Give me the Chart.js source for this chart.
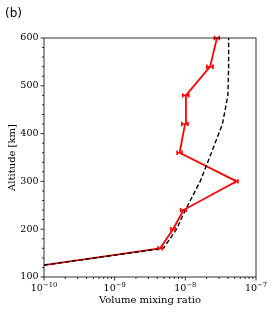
<!DOCTYPE html>
<html>
<head>
<meta charset="utf-8">
<script src="https://cdn.jsdelivr.net/npm/chart.js@4.4.0/dist/chart.umd.min.js"></script>
<style>
  html, body { margin: 0; padding: 0; background: #fff; }
  #wrap { width: 276px; height: 312px; }
</style>
</head>
<body>
<div id="wrap"><canvas id="vmr" width="276" height="312"></canvas></div>
<script>
// retrieved profile (red, with horizontal error bars)
const altitudes = [125, 160, 200, 240, 300, 360, 420, 480, 540, 600];
const retrieved = [1e-10, 4.4e-9, 6.7e-9, 9.4e-9, 5.3e-8, 8.3e-9, 9.9e-9, 1.02e-8, 2.24e-8, 2.8e-8];
const retrievedErr = [0, 0.3e-9, 0.45e-9, 0.85e-9, 2.5e-9, 0.65e-9, 1.0e-9, 1.0e-9, 2.2e-9, 2.2e-9];
// model profile (black dashed)
const modelAlt = [125, 160, 200, 240, 300, 360, 420, 480, 540, 600];
const model = [1e-10, 4.9e-9, 7.5e-9, 1.0e-8, 1.62e-8, 2.34e-8, 3.35e-8, 4.0e-8, 4.1e-8, 4.1e-8];

const xTicks = [1e-10, 1e-9, 1e-8, 1e-7];
const yTicks = [100, 200, 300, 400, 500, 600];

const serif = "'DejaVu Serif', serif";

const decor = {
  id: 'decor',
  afterDatasetsDraw(chart) {
    const ctx = chart.ctx, x = chart.scales.x, y = chart.scales.y;
    ctx.save();
    ctx.strokeStyle = '#ff0000';
    ctx.lineWidth = 1.6;
    for (let i = 0; i < altitudes.length; i++) {
      if (!retrievedErr[i]) continue;
      let py = y.getPixelForValue(altitudes[i]);
      let x0 = x.getPixelForValue(retrieved[i] - retrievedErr[i]);
      let x1 = x.getPixelForValue(retrieved[i] + retrievedErr[i]);
      ctx.beginPath();
      ctx.moveTo(x0, py); ctx.lineTo(x1, py);
      ctx.moveTo(x0, py - 2.2); ctx.lineTo(x0, py + 2.2);
      ctx.moveTo(x1, py - 2.2); ctx.lineTo(x1, py + 2.2);
      ctx.stroke();
    }
    ctx.restore();
  },
  afterDraw(chart) {
    const ctx = chart.ctx, a = chart.chartArea, x = chart.scales.x, y = chart.scales.y;
    ctx.save();
    ctx.strokeStyle = '#000';
    ctx.lineWidth = 0.8;
    ctx.strokeRect(a.left, a.top, a.right - a.left, a.bottom - a.top);
    ctx.beginPath();
    for (let v = 100; v <= 600; v += 20) {
      let py = y.getPixelForValue(v);
      let len = v % 100 === 0 ? 3.5 : 2;
      ctx.moveTo(a.left - len, py); ctx.lineTo(a.left, py);
    }
    for (let d = -10; d < -7; d++) {
      for (let m = 1; m <= 9; m++) {
        let px = x.getPixelForValue(m * Math.pow(10, d));
        let len = m === 1 ? 3.5 : 2;
        ctx.moveTo(px, a.bottom); ctx.lineTo(px, a.bottom + len);
      }
    }
    let pe = x.getPixelForValue(1e-7);
    ctx.moveTo(pe, a.bottom); ctx.lineTo(pe, a.bottom + 3.5);
    ctx.stroke();

    // x tick labels as 10 with a raised exponent
    ctx.fillStyle = '#000';
    ctx.textBaseline = 'alphabetic';
    ctx.textAlign = 'left';
    xTicks.forEach(v => {
      let base = '10';
      let exp = '\u2212' + String(-Math.round(Math.log10(v)));
      ctx.font = '9.6px ' + serif;
      let wb = ctx.measureText(base).width;
      ctx.font = '6.8px ' + serif;
      let we = ctx.measureText(exp).width;
      let px = x.getPixelForValue(v) - (wb + we) / 2;
      ctx.font = '9.6px ' + serif;
      ctx.fillText(base, px, a.bottom + 14);
      ctx.font = '6.8px ' + serif;
      ctx.fillText(exp, px + wb, a.bottom + 9.6);
    });

    ctx.font = "12px 'DejaVu Sans', sans-serif";
    ctx.fillText('(b)', 5, 17);
    ctx.restore();
  }
};

new Chart(document.getElementById('vmr'), {
  type: 'line',
  data: {
    datasets: [{
      label: 'model',
      data: model.map((v, i) => ({x: v, y: modelAlt[i]})),
      borderColor: '#000',
      borderWidth: 1.4,
      borderDash: [4.5, 2.5],
      pointRadius: 0,
      fill: false,
      tension: 0
    }, {
      label: 'retrieved',
      data: retrieved.map((v, i) => ({x: v, y: altitudes[i]})),
      borderColor: '#ff0000',
      borderWidth: 1.8,
      pointRadius: 0,
      fill: false,
      tension: 0
    }]
  },
  options: {
    responsive: false,
    animation: false,
    layout: { padding: { top: 38, right: 20, left: 0, bottom: 0 } },
    plugins: { legend: { display: false }, tooltip: { enabled: false } },
    scales: {
      x: {
        type: 'logarithmic',
        min: 1e-10,
        max: 1e-7,
        afterFit(scale) { scale.height = 35; },
        afterBuildTicks(scale) { scale.ticks = xTicks.map(v => ({value: v})); },
        grid: { display: false, drawTicks: false },
        border: { display: false },
        ticks: { display: false },
        title: {
          display: true, text: 'Volume mixing ratio', color: '#000',
          font: { family: serif, size: 10 },
          padding: { top: 0, bottom: 6 }
        }
      },
      y: {
        type: 'linear',
        min: 100,
        max: 600,
        afterFit(scale) { scale.width = 44; },
        afterBuildTicks(scale) { scale.ticks = yTicks.map(v => ({value: v})); },
        grid: { display: false, drawTicks: false },
        border: { display: false },
        ticks: {
          autoSkip: false, padding: 5.5,
          color: '#000',
          font: { family: serif, size: 9.5 }
        },
        title: {
          display: true, text: 'Altitude [km]', color: '#000',
          font: { family: serif, size: 10 },
          padding: { top: 6.5, bottom: 0 }
        }
      }
    }
  },
  plugins: [decor]
});
</script>
</body>
</html>
